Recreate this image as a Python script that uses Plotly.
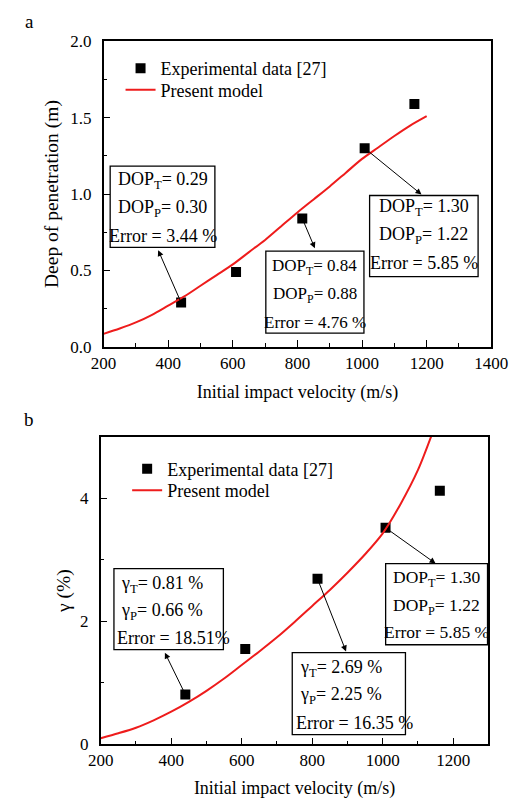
import plotly.graph_objects as go

# ---------------- data ----------------
exp_v = [440, 610, 815, 1008, 1162]
exp_dop = [0.29, 0.49, 0.84, 1.30, 1.59]
exp_gamma = [0.81, 1.55, 2.69, 3.52, 4.12]

model_v_a = [200, 250, 300, 350, 400, 450, 500, 550, 600, 650, 700, 750, 800,
             850, 900, 950, 1000, 1050, 1100, 1150, 1200]
model_dop = [0.085, 0.12, 0.16, 0.21, 0.27, 0.33, 0.40, 0.47, 0.54, 0.62, 0.70,
             0.79, 0.88, 0.965, 1.05, 1.14, 1.23, 1.305, 1.38, 1.45, 1.51]

model_v_b = [200, 250, 300, 350, 400, 450, 500, 550, 600, 650, 700, 750, 800,
             850, 900, 950, 1000, 1050, 1100, 1150]
model_gamma = [0.10, 0.18, 0.27, 0.39, 0.53, 0.69, 0.87, 1.07, 1.29, 1.51, 1.74,
               1.99, 2.25, 2.51, 2.79, 3.09, 3.43, 3.90, 4.46, 5.20]

# annotation texts
box_a = [["DOP<sub>T</sub>= 0.29", "DOP<sub>P</sub>= 0.30", "Error = 3.44 %"],
         ["DOP<sub>T</sub>= 0.84", "DOP<sub>P</sub>= 0.88", "Error = 4.76 %"],
         ["DOP<sub>T</sub>= 1.30", "DOP<sub>P</sub>= 1.22", "Error = 5.85 %"]]
box_b = [["γ<sub>T</sub>= 0.81 %", "γ<sub>P</sub>= 0.66 %", "Error = 18.51%"],
         ["γ<sub>T</sub>= 2.69 %", "γ<sub>P</sub>= 2.25 %", "Error = 16.35 %"],
         ["DOP<sub>T</sub>= 1.30", "DOP<sub>P</sub>= 1.22", "Error = 5.85 %"]]

W, H = 530, 810
FONT = "Liberation Serif, Times New Roman, Times, serif"
RED = "#ee1c1c"


def px(x):
    return x / W


def py(y):
    return 1 - y / H


fig = go.Figure()

marker_style = dict(symbol="square", size=10, color="black")
line_style = dict(color=RED, width=2, shape="spline", smoothing=0.8)

# panel a
fig.add_trace(go.Scatter(x=exp_v, y=exp_dop, mode="markers", name="Experimental data [27]",
                         marker=marker_style, xaxis="x", yaxis="y", legend="legend"))
fig.add_trace(go.Scatter(x=model_v_a, y=model_dop, mode="lines", name="Present model",
                         line=line_style, xaxis="x", yaxis="y", legend="legend2"))
# panel b
fig.add_trace(go.Scatter(x=exp_v, y=exp_gamma, mode="markers", name="Experimental data [27]",
                         marker=marker_style, xaxis="x2", yaxis="y2", legend="legend3"))
fig.add_trace(go.Scatter(x=model_v_b, y=model_gamma, mode="lines", name="Present model",
                         line=line_style, xaxis="x2", yaxis="y2", legend="legend4"))

axis_common = dict(showline=True, linecolor="black", linewidth=1.5, mirror=True,
                   ticks="inside", ticklen=7, tickwidth=1.2, tickcolor="black",
                   showgrid=False, zeroline=False,
                   tickfont=dict(family=FONT, size=17, color="black"),
                   minor=dict(ticks="inside", ticklen=4, tickwidth=1.2, tickcolor="black"))

title_font_x = dict(family=FONT, size=18, color="black")
title_font_y = dict(family=FONT, size=19.5, color="black")


def leg(x, y):
    return dict(x=px(x), y=py(y), xanchor="left", yanchor="middle",
                bgcolor="rgba(0,0,0,0)", font=dict(family=FONT, size=18, color="black"),
                tracegroupgap=0, borderwidth=0)


fig.update_layout(
    width=W, height=H,
    margin=dict(l=0, r=0, t=0, b=0),
    paper_bgcolor="white", plot_bgcolor="white",
    font=dict(family=FONT, size=16, color="black"),
    xaxis=dict(axis_common, domain=[px(96), px(507)], range=[200, 1400], dtick=200,
               minor=dict(axis_common["minor"], dtick=100), anchor="y", ticklabelstandoff=0,
               title=dict(text="Initial impact velocity (m/s)", font=title_font_x, standoff=13)),
    yaxis=dict(axis_common, domain=[py(346), py(33)], range=[0, 2.0], dtick=0.5,
               tickformat=".1f", minor=dict(axis_common["minor"], dtick=0.25), anchor="x",
               ticklabelstandoff=7,
               title=dict(text="Deep of penetration (m)", font=title_font_y, standoff=6)),
    xaxis2=dict(axis_common, domain=[px(93), px(504)], range=[200, 1300], dtick=200,
                minor=dict(axis_common["minor"], dtick=100), anchor="y2", ticklabelstandoff=0,
                title=dict(text="Initial impact velocity (m/s)", font=title_font_x, standoff=12)),
    yaxis2=dict(axis_common, domain=[py(753), py(438)], range=[0, 5], dtick=2,
                minor=dict(axis_common["minor"], dtick=1), anchor="x2",
                ticklabelstandoff=7,
                title=dict(text="γ (%)", font=title_font_y, standoff=4)),
    legend=leg(114, 61),
    legend2=leg(114, 83),
    legend3=leg(121, 471),
    legend4=leg(121, 493),
    showlegend=True,
)

annotations = []
shapes = []

# panel labels
annotations.append(dict(text="a", x=px(17), y=py(13), xref="paper", yref="paper",
                        showarrow=False, font=dict(family=FONT, size=19), xanchor="center", yanchor="middle"))
annotations.append(dict(text="b", x=px(17), y=py(420), xref="paper", yref="paper",
                        showarrow=False, font=dict(family=FONT, size=19), xanchor="center", yanchor="middle"))

# boxes (pixel rects), text line positions, font size
boxes_a_geom = [((103, 161, 214, 244), [176, 204, 232], 18),
                ((268, 248, 372, 332), [264, 293, 321], 17),
                ((378, 191, 493, 274), [203, 232, 260], 18)]

for lines, ((x0, y0, x1, y1), ys, fs) in zip(box_a, boxes_a_geom):
    shapes.append(dict(type="rect", xref="paper", yref="paper", x0=px(x0), x1=px(x1),
                       y0=py(y0), y1=py(y1), line=dict(color="black", width=1.3),
                       fillcolor="white", layer="above"))
    for t, yy in zip(lines, ys):
        annotations.append(dict(text=t, x=px((x0 + x1) / 2), y=py(yy), xref="paper", yref="paper",
                                showarrow=False, xanchor="center", yanchor="middle",
                                font=dict(family=FONT, size=fs)))

boxes_b_geom = [((107, 573, 223, 656), [589, 617, 644], "left", [112, 112, 108], 18),
                ((296, 659, 416, 743), [675, 703, 731], "left", [302, 302, 298], 18),
                ((395, 568, 503, 651), [583, 612, 638], "center", [449, 449, 449], 17.5)]
for lines, ((x0, y0, x1, y1), ys, anc, xs, fs) in zip(box_b, boxes_b_geom):
    shapes.append(dict(type="rect", xref="paper", yref="paper", x0=px(x0), x1=px(x1),
                       y0=py(y0), y1=py(y1), line=dict(color="black", width=1.3),
                       fillcolor="white", layer="above"))
    for t, yy, xx in zip(lines, ys, xs):
        annotations.append(dict(text=t, x=px(xx), y=py(yy), xref="paper", yref="paper",
                                showarrow=False, xanchor=anc, yanchor="middle",
                                font=dict(family=FONT, size=fs)))

# arrows: from data point (tail) to box edge (head)
heads_a = [(369, 0.633), (854, 0.645), (1184, 0.997)]
for i, (hx, hy) in enumerate(heads_a):
    idx = [0, 2, 3][i]
    annotations.append(dict(text="", x=hx, y=hy, xref="x", yref="y",
                            ax=exp_v[idx], ay=exp_dop[idx], axref="x", ayref="y",
                            showarrow=True, arrowhead=2, arrowsize=1.2, arrowwidth=1,
                            arrowcolor="black", standoff=0, startstandoff=0))
heads_b = [(382, 1.49), (896, 1.51), (1150, 2.94)]
for i, (hx, hy) in enumerate(heads_b):
    idx = [0, 2, 3][i]
    annotations.append(dict(text="", x=hx, y=hy, xref="x2", yref="y2",
                            ax=exp_v[idx], ay=exp_gamma[idx], axref="x2", ayref="y2",
                            showarrow=True, arrowhead=2, arrowsize=1.2, arrowwidth=1,
                            arrowcolor="black", standoff=0, startstandoff=0))

fig.update_layout(annotations=annotations, shapes=shapes)

fig.write_html("out.html")
